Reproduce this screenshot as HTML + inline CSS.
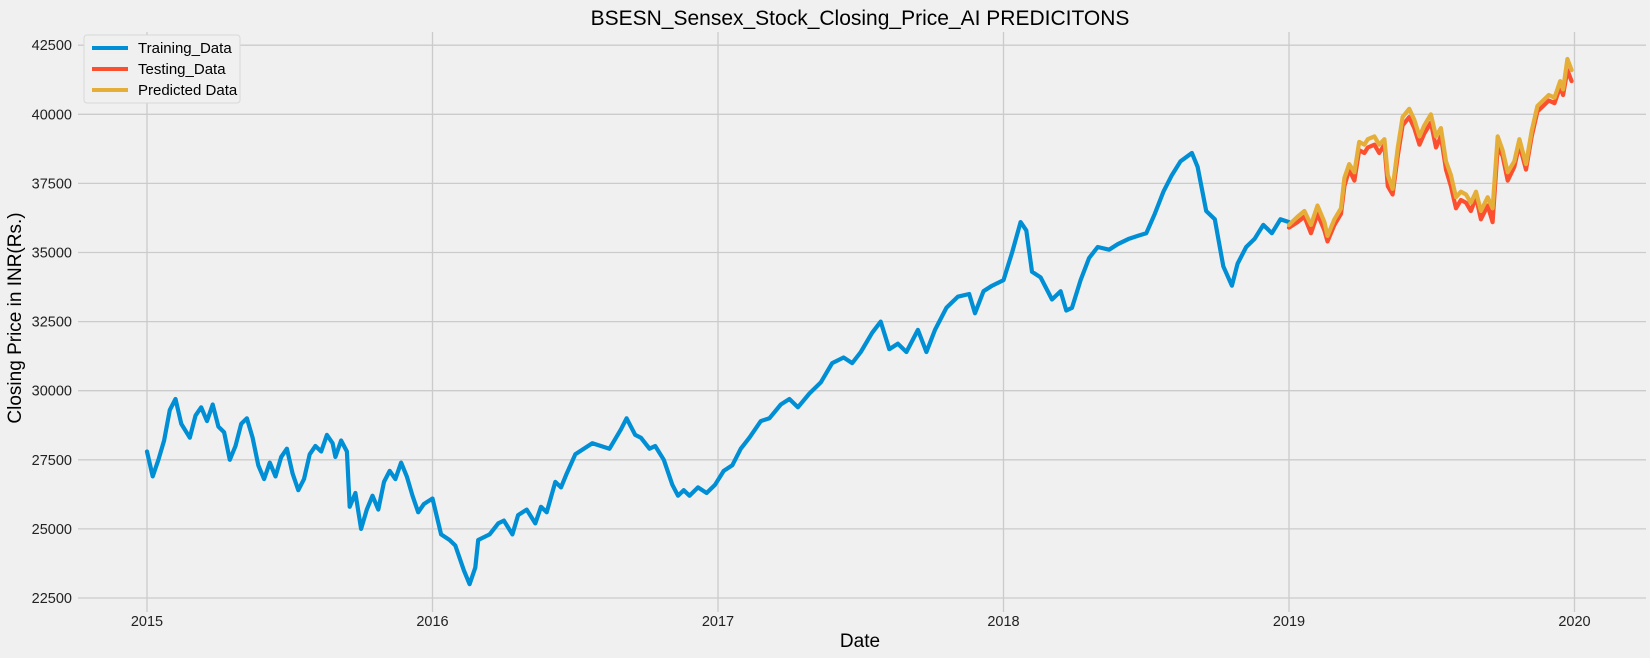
<!DOCTYPE html>
<html><head><meta charset="utf-8"><style>
body{margin:0;background:#f0f0f0;}
svg{display:block;font-family:"Liberation Sans","DejaVu Sans",sans-serif;}
</style></head><body>
<svg id="chart" width="1650" height="658">
<rect width="1650" height="658" fill="#f0f0f0"/>
<g id="grid"></g><g id="series"></g><g id="ticks"></g>
<text x="860" y="25" text-anchor="middle" font-size="21" fill="#000">BSESN_Sensex_Stock_Closing_Price_AI PREDICITONS</text>
<text x="860" y="647" text-anchor="middle" font-size="19" fill="#000">Date</text>
<text transform="translate(21,318) rotate(-90)" text-anchor="middle" font-size="19" fill="#000">Closing Price in INR(Rs.)</text>
<g>
<rect x="84" y="35" width="156" height="68" rx="3" fill="#f0f0f0" stroke="#d8d8d8"/>
<g><line x1="92" y1="48" x2="128" y2="48" stroke="#008fd5" stroke-width="4"/><text x="138" y="53" font-size="15">Training_Data</text></g>
<g><line x1="92" y1="69" x2="128" y2="69" stroke="#fc4f30" stroke-width="4"/><text x="138" y="74" font-size="15">Testing_Data</text></g>
<g><line x1="92" y1="90" x2="128" y2="90" stroke="#e5ae38" stroke-width="4"/><text x="138" y="95" font-size="15">Predicted Data</text></g>
</g>
</svg>
<script>
const xTicks=[2015,2016,2017,2018,2019,2020];
const yTicks=[22500,25000,27500,30000,32500,35000,37500,40000,42500];
const trainDates=[2015.00,2015.02,2015.04,2015.06,2015.08,2015.10,2015.12,2015.15,2015.17,2015.19,2015.21,2015.23,2015.25,2015.27,2015.29,2015.31,2015.33,2015.35,2015.37,2015.39,2015.41,2015.43,2015.45,2015.47,2015.49,2015.51,2015.53,2015.55,2015.57,2015.59,2015.61,2015.63,2015.65,2015.66,2015.68,2015.70,2015.71,2015.73,2015.75,2015.77,2015.79,2015.81,2015.83,2015.85,2015.87,2015.89,2015.91,2015.93,2015.95,2015.97,2016.00,2016.03,2016.06,2016.08,2016.11,2016.13,2016.15,2016.16,2016.20,2016.23,2016.25,2016.28,2016.30,2016.33,2016.36,2016.38,2016.40,2016.43,2016.45,2016.47,2016.50,2016.53,2016.56,2016.59,2016.62,2016.66,2016.68,2016.71,2016.73,2016.76,2016.78,2016.81,2016.84,2016.86,2016.88,2016.90,2016.93,2016.96,2016.99,2017.02,2017.05,2017.08,2017.11,2017.15,2017.18,2017.22,2017.25,2017.28,2017.32,2017.36,2017.40,2017.44,2017.47,2017.50,2017.54,2017.57,2017.60,2017.63,2017.66,2017.70,2017.73,2017.76,2017.80,2017.84,2017.88,2017.90,2017.93,2017.96,2018.00,2018.03,2018.06,2018.08,2018.10,2018.13,2018.17,2018.20,2018.22,2018.24,2018.27,2018.30,2018.33,2018.37,2018.40,2018.44,2018.47,2018.50,2018.53,2018.56,2018.59,2018.62,2018.66,2018.68,2018.71,2018.74,2018.77,2018.80,2018.82,2018.85,2018.88,2018.91,2018.94,2018.97,2019.00];
const trainValues=[27800,26900,27500,28200,29300,29700,28800,28300,29100,29400,28900,29500,28700,28500,27500,28000,28800,29000,28300,27300,26800,27400,26900,27600,27900,27000,26400,26800,27700,28000,27800,28400,28100,27600,28200,27800,25800,26300,25000,25700,26200,25700,26700,27100,26800,27400,26900,26200,25600,25900,26100,24800,24600,24400,23500,23000,23600,24600,24800,25200,25300,24800,25500,25700,25200,25800,25600,26700,26500,27000,27700,27900,28100,28000,27900,28600,29000,28400,28300,27900,28000,27500,26600,26200,26400,26200,26500,26300,26600,27100,27300,27900,28300,28900,29000,29500,29700,29400,29900,30300,31000,31200,31000,31400,32100,32500,31500,31700,31400,32200,31400,32200,33000,33400,33500,32800,33600,33800,34000,35000,36100,35800,34300,34100,33300,33600,32900,33000,34000,34800,35200,35100,35300,35500,35600,35700,36400,37200,37800,38300,38600,38100,36500,36200,34500,33800,34600,35200,35500,36000,35700,36200,36100];
const testDates=[2019.00,2019.03,2019.054,2019.077,2019.10,2019.124,2019.135,2019.159,2019.182,2019.194,2019.211,2019.229,2019.246,2019.264,2019.276,2019.299,2019.316,2019.334,2019.346,2019.363,2019.381,2019.398,2019.421,2019.439,2019.457,2019.474,2019.497,2019.515,2019.532,2019.55,2019.567,2019.585,2019.602,2019.62,2019.637,2019.655,2019.672,2019.696,2019.713,2019.731,2019.748,2019.766,2019.789,2019.807,2019.83,2019.85,2019.87,2019.89,2019.91,2019.93,2019.95,2019.96,2019.975,2019.99];
const testValues=[35900,36100,36300,35700,36400,35800,35400,36000,36400,37400,38000,37600,38700,38600,38800,38900,38600,38900,37400,37100,38500,39600,39900,39500,38900,39300,39700,38800,39200,38000,37400,36600,36900,36800,36500,37000,36200,36700,36100,38800,38500,37600,38100,38900,38000,39200,40100,40300,40500,40400,41000,40700,41600,41200];
const predValues=[36000,36300,36500,36000,36700,36100,35600,36200,36600,37700,38200,37900,39000,38900,39100,39200,38900,39100,37800,37300,38800,39900,40200,39800,39200,39600,40000,39200,39500,38300,37800,37000,37200,37100,36800,37200,36500,37000,36600,39200,38700,37900,38300,39100,38200,39400,40300,40500,40700,40600,41200,40900,42000,41600];

const NS="http://www.w3.org/2000/svg";
const X=t=>147+(t-2015)*285.5;
const Y=v=>598-(v-22500)/2500*69.1;
const grid=document.getElementById('grid'),ticks=document.getElementById('ticks'),series=document.getElementById('series');
function mk(tag,attrs,parent){const e=document.createElementNS(NS,tag);for(const k in attrs)e.setAttribute(k,attrs[k]);parent.appendChild(e);return e;}
yTicks.forEach(v=>{
  const l=mk('line',{x1:78,x2:1646,y1:Y(v),y2:Y(v),stroke:'#cbcbcb','stroke-width':1.3},grid);
  
  
  const t=mk('text',{x:72,y:Y(v)+5,'text-anchor':'end','font-size':14.5,fill:'#222'},ticks);
  t.textContent=v;
  
  
});
xTicks.forEach(v=>{
  const l=mk('line',{x1:X(v),x2:X(v),y1:32,y2:612,stroke:'#cbcbcb','stroke-width':1.3},grid);
  
  
  const t=mk('text',{x:X(v),y:626,'text-anchor':'middle','font-size':14.5,fill:'#222'},ticks);
  t.textContent=v;
  
  
});
function line(dates,vals,color){return mk('polyline',{points:dates.map((d,i)=>X(d).toFixed(1)+','+Y(vals[i]).toFixed(1)).join(' '),fill:'none',stroke:color,'stroke-width':4.2,'stroke-linejoin':'round','stroke-linecap':'round'},series);}
const a=line(trainDates,trainValues,'#008fd5');


const b=line(testDates,testValues,'#fc4f30');


const c=line(testDates,predValues,'#e5ae38');


</script>
</body></html>
